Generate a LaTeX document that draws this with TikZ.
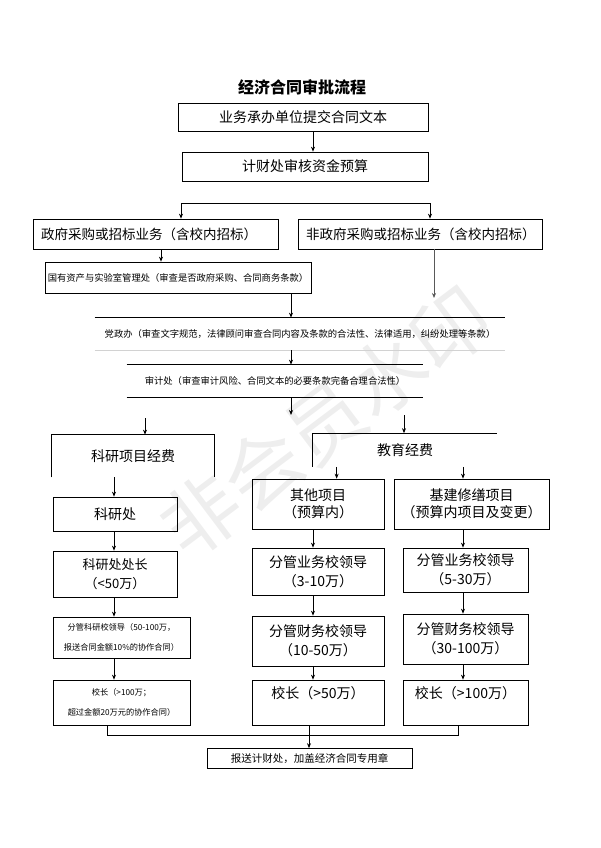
\documentclass[tikz,border=0pt]{standalone}
\usepackage{fontspec}
\setmainfont{Noto Sans CJK SC}
\usetikzlibrary{arrows.meta,calc}

\begin{document}
\begin{tikzpicture}[x=1pt, y=-1pt, line width=0.7pt, >={Stealth[length=5pt,width=4pt]},
    box/.style={draw, inner sep=0pt, align=center, font=\fontsize{14}{19}\selectfont},
    bare/.style={inner sep=0pt, align=center, font=\fontsize{14}{19}\selectfont},
    smalltext/.style={font=\fontsize{9.3}{20}\selectfont},
    tinytext/.style={font=\fontsize{8.2}{20}\selectfont}]
    \useasboundingbox (0,0) rectangle (600,848);
    \node[rotate=37, text=gray!13, font=\fontsize{78}{78}\selectfont] (mark) at (325,422) {非会员水印};

    \node[font=\bfseries\fontsize{16}{16}\selectfont] (title) at (302,87) {经济合同审批流程};
    \node[box, minimum width=250pt, minimum height=28pt] (submit) at (303,117) {业务承办单位提交合同文本};
    \node[box, minimum width=246pt, minimum height=29pt] (budget) at (305,166.5) {计财处审核资金预算};

    \node[box, minimum height=30pt, text width=229pt, align=left, inner xsep=8pt, font=\fontsize{13.5}{16}\selectfont] (gov) at (155.5,234) {政府采购或招标业务（含校内招标）};
    \node[box, minimum height=30pt, text width=228pt, align=left, inner xsep=8pt, font=\fontsize{13.5}{16}\selectfont] (nongov) at (420,234) {非政府采购或招标业务（含校内招标）};
    \node[box, smalltext, minimum width=266pt, minimum height=31pt] (asset) at (178,277.5) {国有资产与实验室管理处（审查是否政府采购、合同商务条款）};

    \node[bare, smalltext, minimum width=410pt, minimum height=32pt] (party) at (300,334) {党政办（审查文字规范，法律顾问审查合同内容及条款的合法性、法律适用，纠纷处理等条款）};
    \node[bare, smalltext, minimum width=296pt, minimum height=32pt] (audit) at (275,381) {审计处（审查审计风险、合同文本的必要条款完备合理合法性）};
    \draw (party.north west) -- (party.north east);
    \draw[gray!35] (party.south west) -- (party.south east);
    \draw (audit.north west) -- (audit.north east);
    \draw (audit.south west) -- (audit.south east);

    \node[bare, minimum width=162pt, minimum height=42pt] (kyfund) at (133,456) {科研项目经费};
    \node[bare, minimum width=184pt, minimum height=33pt] (edufund) at (405,450) {教育经费};
    \draw (kyfund.south west) -- (kyfund.north west) -- (kyfund.north east) -- (kyfund.south east);
    \draw (edufund.south west) -- (edufund.north west) -- (edufund.north east);

    \node[box, minimum width=124pt, minimum height=34pt] (kyoffice) at (115,514) {科研处};
    \node[box, minimum width=124pt, minimum height=46pt, font=\fontsize{13}{19}\selectfont] (kyhead) at (115,574) {科研处处长\\（<50万）};
    \node[box, tinytext, minimum width=137pt, minimum height=41pt] (kylead) at (121.5,637.5) {分管科研校领导（50-100万，\\报送合同金额10\%的协作合同）};
    \node[box, tinytext, minimum width=137pt, minimum height=45pt] (kypres) at (121.5,702.5) {校长（>100万；\\超过金额20万元的协作合同）};

    \node[box, minimum width=132pt, minimum height=50pt, font=\fontsize{14}{17}\selectfont] (other) at (318,504) {其他项目\\（预算内）};
    \node[box, minimum width=155pt, minimum height=50pt, font=\fontsize{14}{17}\selectfont] (build) at (471.5,504) {基建修缮项目\\（预算内项目及变更）};
    \node[box, minimum width=132pt, minimum height=47pt] (ywlead1) at (318,571.5) {分管业务校领导\\（3-10万）};
    \node[box, minimum width=125pt, minimum height=44pt] (ywlead2) at (465.5,570) {分管业务校领导\\（5-30万）};
    \node[box, minimum width=132pt, minimum height=50pt] (cwlead1) at (318,641) {分管财务校领导\\（10-50万）};
    \node[box, minimum width=125pt, minimum height=50pt] (cwlead2) at (465.5,639) {分管财务校领导\\（30-100万）};
    \node[box, minimum width=132pt, minimum height=45pt, label={[anchor=north, yshift=-3pt, font=\fontsize{14}{19}\selectfont]north:校长（>50万）}] (pres1) at (318,702.5) {};
    \node[box, minimum width=125pt, minimum height=45pt, label={[anchor=north, yshift=-3pt, font=\fontsize{14}{19}\selectfont]north:校长（>100万）}] (pres2) at (465.5,702.5) {};

    \node[box, minimum width=205pt, minimum height=20pt, font=\fontsize{10.5}{12}\selectfont] (report) at (309.5,758.5) {报送计财处，加盖经济合同专用章};

    \coordinate (sl) at (181,203);
    \coordinate (sr) at (430,203);
    \coordinate (ng) at (434,298);
    \coordinate (au) at (291,415);
    \coordinate (ky) at (145,418);
    \coordinate (edu) at (404,415);
    \coordinate (c0) at (114,0);
    \coordinate (c1) at (313,0);
    \coordinate (c2) at (463,0);
    \coordinate (c3) at (107,0);
    \coordinate (c4) at (458,0);
    \coordinate (c5) at (309,0);
    \coordinate (m) at (0,735);

    \draw[->] (submit.south -| c1) -- (budget.north -| c1);
    \draw (sl) -- (sr);
    \draw[->] (sl) -- (sl |- gov.north);
    \draw[->] (sr) -- (sr |- nongov.north);
    \draw[->] ([xshift=5.5pt]gov.south) -- ([xshift=5.5pt]gov.south |- asset.north);
    \draw[->, gray!70!black] (nongov.south -| ng) -- (ng);
    \draw[->] (asset.south -| au) -- (party.north -| au);
    \draw[->] (party.south -| au) -- (audit.north -| au);
    \draw[->] (audit.south -| au) -- (au);
    \draw[->] (ky) -- (ky |- kyfund.north);
    \draw[->] (edu) -- (edu |- edufund.north);

    \draw[->] (kyfund.south -| c0) -- (kyoffice.north -| c0);
    \draw[->] (kyoffice.south -| c0) -- (kyhead.north -| c0);
    \draw[->] (kyhead.south -| c0) -- (kylead.north -| c0);
    \draw[->] (kylead.south -| c0) -- (kypres.north -| c0);

    \draw[->] ([xshift=24pt]edufund.south west) -- ([xshift=24pt]edufund.south west |- other.north);
    \draw[->] (edufund.south -| c2) -- (build.north -| c2);
    \draw[->] (other.south -| c1) -- (ywlead1.north -| c1);
    \draw[->] (build.south -| c2) -- (ywlead2.north -| c2);
    \draw[->] (ywlead1.south -| c1) -- (cwlead1.north -| c1);
    \draw[->] (ywlead2.south -| c2) -- (cwlead2.north -| c2);
    \draw[->] (cwlead1.south -| c1) -- (pres1.north -| c1);
    \draw[->] (cwlead2.south -| c2) -- (pres2.north -| c2);

    \draw (kypres.south -| c3) -- (m -| c3) -- (m -| c4) -- (pres2.south -| c4);
    \draw[->] (pres1.south -| c5) -- (report.north -| c5);
\end{tikzpicture}
\end{document}
